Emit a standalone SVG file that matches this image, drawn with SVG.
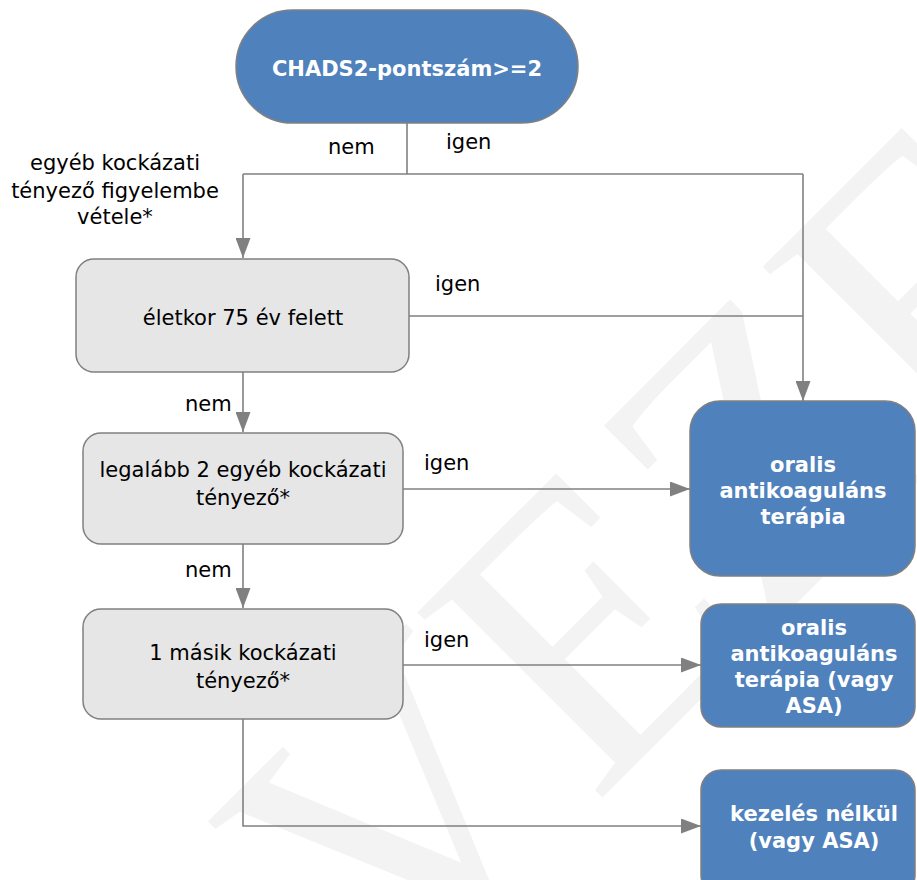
<svg xmlns="http://www.w3.org/2000/svg" width="917" height="880" viewBox="0 0 917 880">
  <defs>
    <marker id="arrow" viewBox="0 0 20 15" refX="20" refY="7.5" markerWidth="20" markerHeight="15" markerUnits="userSpaceOnUse" orient="auto">
      <path d="M0,0 L20,7.5 L0,15 Z" fill="#808080"/>
    </marker>
  </defs>
  <style>
    .wm { font-family: "Liberation Serif", "DejaVu Serif", serif; font-size: 400px; fill: #f3f3f3; }
    .link { fill: none; stroke: #808080; stroke-width: 1.6; }
    .grey { fill: #e6e6e6; stroke: #808080; stroke-width: 1.5; }
    .blue { fill: #4f81bd; stroke: #808080; stroke-width: 1.5; }
    .t { font-family: "DejaVu Sans", Verdana, sans-serif; font-size: 21px; fill: #000; text-anchor: middle; }
    .lbl { font-family: "DejaVu Sans", Verdana, sans-serif; font-size: 21px; fill: #000; }
    .w { font-family: "DejaVu Sans", Verdana, sans-serif; font-size: 21px; font-weight: bold; fill: #fff; text-anchor: middle; }
  </style>
  <rect width="917" height="880" fill="#fff"/>

  <!-- background watermark -->
  <text class="wm" x="0" y="0" transform="translate(390,1010) rotate(-45)">VEZET</text>

  <!-- connectors -->
  <g id="connectors">
    <path class="link" d="M407,123 V174"/>
    <path class="link" d="M243,174 H803"/>
    <path class="link" d="M243,174 V258" marker-end="url(#arrow)"/>
    <path class="link" d="M803,174 V401" marker-end="url(#arrow)"/>
    <path class="link" d="M409,316 H803"/>
    <path class="link" d="M243,372 V432" marker-end="url(#arrow)"/>
    <path class="link" d="M403,489 H690" marker-end="url(#arrow)"/>
    <path class="link" d="M243,544 V608" marker-end="url(#arrow)"/>
    <path class="link" d="M403,665 H701" marker-end="url(#arrow)"/>
    <path class="link" d="M243,719 V826 H701" marker-end="url(#arrow)"/>
    <text class="lbl" x="328" y="154">nem</text>
    <text class="lbl" x="446" y="149">igen</text>
    <text class="t" x="115" y="170">egyéb kockázati</text>
    <text class="t" x="115" y="198">tényező figyelembe</text>
    <text class="t" x="115" y="224">vétele*</text>
    <text class="lbl" x="435" y="291">igen</text>
    <text class="lbl" x="185" y="411">nem</text>
    <text class="lbl" x="424" y="470">igen</text>
    <text class="lbl" x="185" y="577">nem</text>
    <text class="lbl" x="424" y="647">igen</text>
  </g>

  <g id="start">
    <rect class="blue" x="236" y="10" width="342" height="113" rx="56.5"/>
    <text class="w" x="407" y="76">CHADS2-pontszám&gt;=2</text>
  </g>

  <g id="age">
    <rect class="grey" x="76" y="259" width="333" height="113" rx="18"/>
    <text class="t" x="243" y="325">életkor 75 év felett</text>
  </g>

  <g id="two-factors">
    <rect class="grey" x="83" y="433" width="320" height="111" rx="18"/>
    <text class="t" x="243" y="477">legalább 2 egyéb kockázati</text>
    <text class="t" x="243" y="505">tényező*</text>
  </g>

  <g id="one-factor">
    <rect class="grey" x="83" y="609" width="320" height="110" rx="18"/>
    <text class="t" x="243" y="660">1 másik kockázati</text>
    <text class="t" x="243" y="688">tényező*</text>
  </g>

  <g id="oac">
    <rect class="blue" x="690" y="401" width="225" height="175" rx="30"/>
    <text class="w" x="803" y="472">oralis</text>
    <text class="w" x="803" y="498">antikoaguláns</text>
    <text class="w" x="803" y="524">terápia</text>
  </g>

  <g id="oac-or-asa">
    <rect class="blue" x="701" y="604" width="214" height="123" rx="20"/>
    <text class="w" x="814" y="635">oralis</text>
    <text class="w" x="814" y="661">antikoaguláns</text>
    <text class="w" x="814" y="687">terápia (vagy</text>
    <text class="w" x="814" y="713">ASA)</text>
  </g>

  <g id="no-treatment">
    <rect class="blue" x="701" y="770" width="214" height="125" rx="20"/>
    <text class="w" x="814" y="821">kezelés nélkül</text>
    <text class="w" x="814" y="848">(vagy ASA)</text>
  </g>
</svg>
